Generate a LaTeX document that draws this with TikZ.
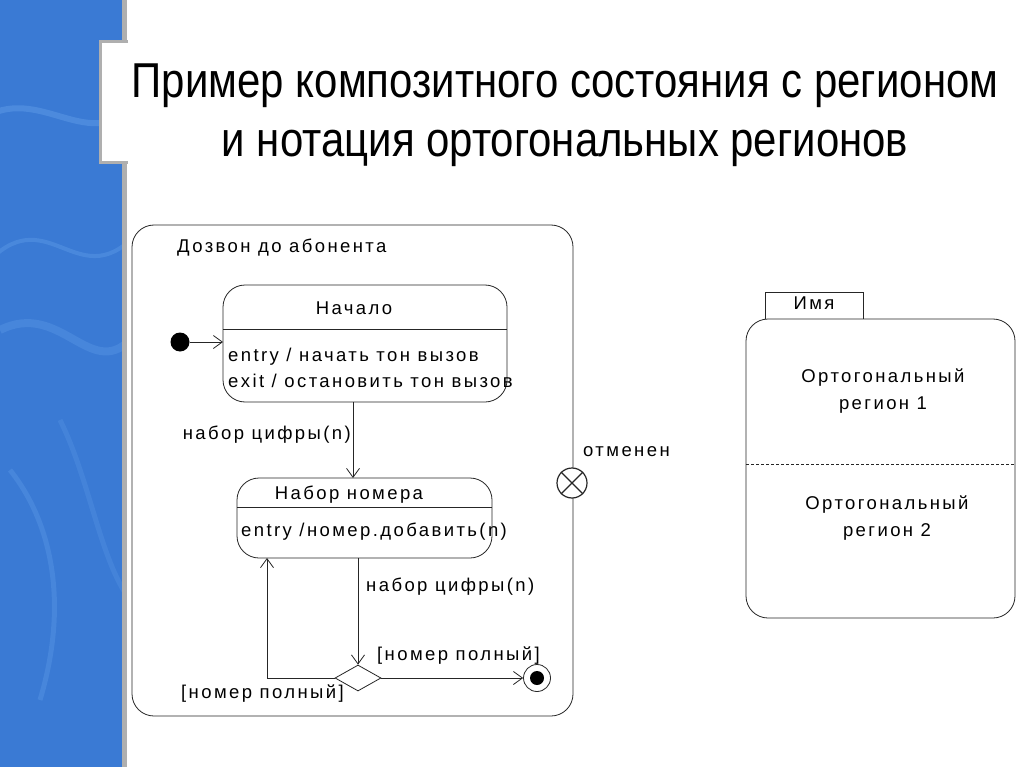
\documentclass[tikz,border=0pt]{standalone}
\usepackage{fontspec}
\setmainfont{Liberation Sans}
\newfontfamily\titlefont[FakeStretch=0.856]{Liberation Sans}
\newfontfamily\dfont[LetterSpace=13]{Liberation Sans}
\usetikzlibrary{arrows.meta,shapes.geometric}
\definecolor{bandblue}{RGB}{58,122,212}
\definecolor{bandlight}{RGB}{110,170,240}
\definecolor{edgegray}{RGB}{175,175,175}
\begin{document}
\begin{tikzpicture}[x=1pt,y=-1pt,
  ln/.style={draw=black!85, line width=0.8pt},
  stbox/.style={ln, rounded corners=22pt, inner sep=0pt, outer sep=0pt},
  tr/.style={ln, -{Straight Barb[length=9pt,width=13pt,line width=0.8pt]}},
  dtext/.style={font=\dfont\fontsize{18.5}{22}\selectfont, inner sep=0pt, text=black},
  ttext/.style={font=\titlefont\fontsize{49}{55}\selectfont, inner sep=0pt, text=black}]
\useasboundingbox (0,0) rectangle (1024,767);
\fill[white] (0,0) rectangle (1024,767);
% left decorative band
\fill[bandblue] (0,0) rectangle (123,767);
\begin{scope}
\clip (0,0) rectangle (123,767);
\draw[bandlight, opacity=0.35, line width=6pt] (-20,120) .. controls (40,80) and (90,160) .. (140,100);
\draw[bandlight, opacity=0.3, line width=4pt] (-10,260) .. controls (50,200) and (80,300) .. (140,230);
\draw[bandlight, opacity=0.25, line width=8pt] (0,330) .. controls (60,300) and (90,380) .. (130,340);
\draw[bandlight, opacity=0.25, line width=5pt] (10,470) .. controls (50,520) and (70,600) .. (40,700);
\draw[bandlight, opacity=0.2, line width=5pt] (60,420) .. controls (90,480) and (100,560) .. (130,600);
\end{scope}
\fill[edgegray] (122,0) rectangle (127,767);
\fill[white] (101,43) rectangle (128,162);
\draw[edgegray, line width=3pt] (128,42) -- (100,42) -- (100,163) -- (128,163);
% title
\node[ttext, anchor=base] (t1) at (565,98) {Пример композитного состояния с регионом};
\node[ttext, anchor=base] (t2) at (565,157) {и нотация ортогональных регионов};
% composite state
\node[stbox, minimum width=441pt, minimum height=491pt] (outer) at (352.5,470.5) {};
\node[dtext, anchor=base west] (outerlbl) at (177,252) {Дозвон до абонента};
% state Начало
\node[stbox, minimum width=284pt, minimum height=117pt] (nach) at (365,343.5) {};
\coordinate (sep1) at (0,329);
\draw[ln] (sep1 -| nach.west) -- (sep1 -| nach.east);
\node[dtext, anchor=base] (nachname) at (354,314) {Начало};
\node[dtext, anchor=base west] (nache1) at (228,361) {entry / начать тон вызов};
\node[dtext, anchor=base west] (nache2) at (228,387) {exit / остановить тон вызов};
% initial
\node[circle, fill=black, minimum size=19pt, inner sep=0pt] (init) at (180,342) {};
\draw[tr] (init.east) -- (init -| nach.west);
% state Набор номера
\node[stbox, minimum width=255pt, minimum height=80pt] (nab) at (364.5,518) {};
\coordinate (sep2) at (0,507);
\draw[ln] (sep2 -| nab.west) -- (sep2 -| nab.east);
\node[dtext, anchor=base] (nabname) at (349,499) {Набор номера};
\node[dtext, anchor=base west] (nabe1) at (241,536) {entry /номер.добавить(n)};
% transition Начало -> Набор номера
\coordinate (tx1) at (353,0);
\draw[tr] (tx1 |- nach.south) -- (tx1 |- nab.north);
\node[dtext, anchor=base east] (lbl1) at (351,439) {набор цифры(n)};
% decision
\node[diamond, ln, fill=white, minimum width=46pt, minimum height=26pt, aspect=1.77, inner sep=0pt] (dec) at (358,678) {};
\coordinate (tx2) at (358,0);
\draw[tr] (tx2 |- nab.south) -- (dec.north);
\node[dtext, anchor=base west] (lbl2) at (366,591) {набор цифры(n)};
% loop back
\coordinate (lx) at (267,0);
\draw[tr] (dec.west) -| (lx |- nab.south);
\node[dtext, anchor=base west] (lbl3) at (181,698) {[номер полный]};
% final state
\node[circle, ln, fill=white, minimum size=27pt, inner sep=0pt] (fin) at (537,678) {};
\node[circle, fill=black, minimum size=14pt, inner sep=0pt] (finin) at (fin.center) {};
\draw[tr] (dec.east) -- (fin.west);
\node[dtext, anchor=base west] (lbl4) at (377,660) {[номер полный]};
% exit point
\node[circle, ln, line width=1.2pt, fill=white, minimum size=30pt, inner sep=0pt] (exitp) at (572,483) {};
\draw[ln, line width=1.2pt] (exitp.north east) -- (exitp.south west);
\draw[ln, line width=1.2pt] (exitp.north west) -- (exitp.south east);
\node[dtext, anchor=base west] (lbl5) at (583,456) {отменен};
% orthogonal regions
\node[ln, minimum width=98pt, minimum height=27pt, inner sep=0pt] (tab) at (814,305.5) {};
\node[dtext, anchor=base] (tabtxt) at (814,309) {Имя};
\node[stbox, fill=white, minimum width=269pt, minimum height=299pt] (ortho) at (880.5,468.5) {};
\coordinate (sep3) at (0,464);
\draw[ln, dash pattern=on 3pt off 2pt] (sep3 -| ortho.west) -- (sep3 -| ortho.east);
\node[dtext, align=center, anchor=center] (r1) at (883,391) {Ортогональный\\[5pt]регион 1};
\node[dtext, align=center, anchor=center] (r2) at (887,518) {Ортогональный\\[5pt]регион 2};
\end{tikzpicture}
\end{document}
